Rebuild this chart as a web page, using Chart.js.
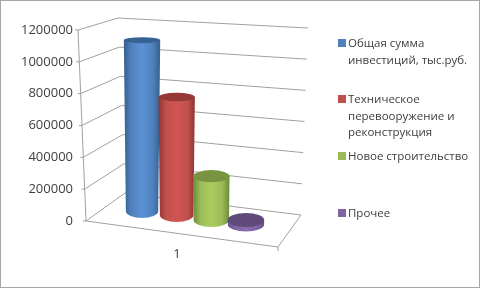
<!DOCTYPE html>
<html>
<head>
<meta charset="utf-8">
<script src="https://cdn.jsdelivr.net/npm/chart.js@4"></script>
<style>
    html, body { margin: 0; padding: 0; background: #fff; overflow: hidden; }
    #frame { position: relative; width: 482px; height: 289px; filter: blur(0.4px); }
    #border { position: absolute; left: 0; top: 0; width: 478px; height: 286px; border: 1.5px solid #a6a6a6; }
    canvas { position: absolute; left: 0; top: 0; }
    .legend-item { position: absolute; left: 338px; width: 142px; font: 11.5px/16.5px "Open Sans", sans-serif; color: #404040; padding-left: 10px; box-sizing: border-box; white-space: nowrap; }
    .legend-item i { position: absolute; left: 0; top: 4px; width: 8px; height: 8px; }
</style>
</head>
<body>
<div id="frame">
    <canvas id="investChart" width="482" height="289"></canvas>
    <div id="border"></div>
</div>
<script>
const categories = ['1'];
const seriesNames = [
    ['Общая сумма', 'инвестиций, тыс.руб.'],
    ['Техническое', 'перевооружение и', 'реконструкция'],
    ['Новое строительство'],
    ['Прочее']
];
const seriesValues = [1130000, 780000, 290000, 30000];
const tickStep = 200000;
const tickMax = 1200000;

// look of each cylinder: edge, highlight, cap
const sideEdge = ['#35608f', '#8e3431', '#6c8a38', '#65508a'];
const sideLight = ['#5c93d6', '#d05553', '#a9cd5c', '#8a6cb0'];
const capColors = ['#376294', '#953735', '#789440', '#5f4a7a'];
const legendColors = ['#4f81bd', '#c0504d', '#9bbb59', '#8064a2'];
const legendTops = [35, 91, 148, 205];

// oblique 3d: how far each bar sits up from the axis zero, and the sideways shift
const baseLift = [10, 6, 1, -3.5];
const depthShift = 17;
const heightShrink = 0.95;

function cornerAt(chart, value) {
    const scale = chart.scales.y;
    const t = (scale.getPixelForValue(value) - scale.top) / (scale.bottom - scale.top);
    return {
        t: t,
        y: scale.getPixelForValue(value),
        frontX: 78 + 8 * t,
        backX: 118 + 7 * t,
        backY: 18 + 175 * t,
        rightX: 308 - 7 * t,
        rightY: 28 + 187 * t
    };
}

function line(ctx, x1, y1, x2, y2) {
    ctx.beginPath();
    ctx.moveTo(x1, y1);
    ctx.lineTo(x2, y2);
    ctx.stroke();
}

const wallsPlugin = {
    id: 'walls',
    beforeDatasetsDraw(chart) {
        const ctx = chart.ctx;
        ctx.save();
        ctx.strokeStyle = '#a0a0a0';
        ctx.lineWidth = 1;
        for (let v = 0; v <= tickMax; v += tickStep) {
            const c = cornerAt(chart, v);
            line(ctx, c.frontX - 3, c.y, c.frontX, c.y);
            line(ctx, c.frontX, c.y, c.backX, c.backY);
            line(ctx, c.backX, c.backY, c.rightX, c.rightY);
        }
        const top = cornerAt(chart, tickMax);
        const zero = cornerAt(chart, 0);
        line(ctx, top.frontX, top.y, zero.frontX, zero.y);
        // floor front and right edge
        line(ctx, zero.frontX, zero.y, 278, 247);
        line(ctx, 278, 247, zero.rightX, zero.rightY);
        line(ctx, 278, 247, 278, 251);
        ctx.restore();
    }
};

const cylindersPlugin = {
    id: 'cylinders',
    afterDatasetsDraw(chart) {
        const ctx = chart.ctx;
        seriesValues.forEach((value, i) => {
            const bar = chart.getDatasetMeta(i).data[0];
            const cx = bar.x + depthShift;
            const bottom = bar.base - baseLift[i];
            const height = (bar.base - bar.y) * heightShrink;
            const top = bottom - height;
            const rxTop = bar.width * 0.525;
            const rxBottom = rxTop * (1 - height * 0.00065);
            const ryTop = 3 + (top - 40) * 4 / 180;
            const ryBottom = 7;

            const grad = ctx.createLinearGradient(cx - rxTop, 0, cx + rxTop, 0);
            grad.addColorStop(0, sideEdge[i]);
            grad.addColorStop(0.2, legendColors[i]);
            grad.addColorStop(0.5, sideLight[i]);
            grad.addColorStop(0.8, legendColors[i]);
            grad.addColorStop(1, sideEdge[i]);

            ctx.save();
            ctx.fillStyle = grad;
            ctx.beginPath();
            ctx.moveTo(cx - rxTop, top);
            ctx.lineTo(cx - rxBottom, bottom);
            ctx.ellipse(cx, bottom, rxBottom, ryBottom, 0, Math.PI, 0, true);
            ctx.lineTo(cx + rxTop, top);
            ctx.closePath();
            ctx.fill();

            ctx.fillStyle = capColors[i];
            ctx.beginPath();
            ctx.ellipse(cx, top, rxTop, ryTop, 0, 0, Math.PI * 2);
            ctx.fill();
            ctx.restore();
        });
    }
};

new Chart(document.getElementById('investChart'), {
    type: 'bar',
    data: {
        labels: categories,
        datasets: seriesValues.map((value, i) => ({
            label: seriesNames[i].join(' '),
            data: [value],
            backgroundColor: 'rgba(0,0,0,0)',
            borderWidth: 0
        }))
    },
    options: {
        responsive: false,
        animation: false,
        categoryPercentage: 0.7,
        barPercentage: 1,
        layout: { padding: { top: 30, right: 206, left: 0, bottom: 0 } },
        plugins: { legend: { display: false }, tooltip: { enabled: false } },
        scales: {
            x: {
                grid: { display: false, drawTicks: false },
                border: { display: false },
                afterFit(scale) { scale.height = 68; },
                ticks: { color: '#404040', padding: 25, font: { family: 'Open Sans', size: 13 } }
            },
            y: {
                min: 0,
                max: tickMax,
                afterFit(scale) { scale.width = 78; },
                grid: { display: false, drawTicks: false },
                border: { display: false },
                ticks: {
                    stepSize: tickStep,
                    color: '#404040',
                    padding: 5,
                    font: { family: 'Open Sans', size: 13 },
                    callback: value => String(value)
                }
            }
        }
    },
    plugins: [wallsPlugin, cylindersPlugin]
});

// legend lines wrap differently per entry, so it is built by hand
const frame = document.getElementById('frame');
seriesNames.forEach((lines, i) => {
    const item = document.createElement('div');
    item.className = 'legend-item';
    item.style.top = legendTops[i] + 'px';
    const swatch = document.createElement('i');
    swatch.style.background = legendColors[i];
    item.appendChild(swatch);
    lines.forEach((text, n) => {
        if (n) item.appendChild(document.createElement('br'));
        item.appendChild(document.createTextNode(text));
    });
    frame.appendChild(item);
});
</script>
</body>
</html>
